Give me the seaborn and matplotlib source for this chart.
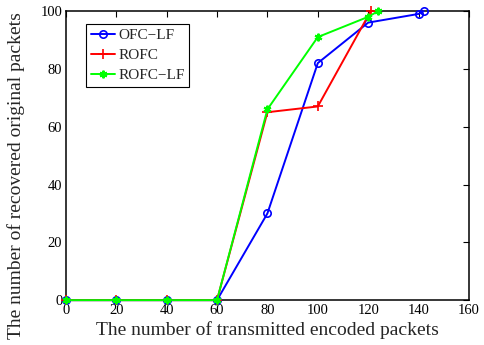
import matplotlib
matplotlib.use("Agg")
import matplotlib.pyplot as plt
import seaborn as sns
import pandas as pd

# Data
ofc_lf_x = [0, 20, 40, 60, 80, 100, 120, 140, 142]
ofc_lf_y = [0, 0, 0, 0, 30, 82, 96, 99, 100]
rofc_x = [0, 20, 40, 60, 80, 100, 121]
rofc_y = [0, 0, 0, 0, 65, 67, 100]
rofc_lf_x = [0, 20, 40, 60, 80, 100, 120, 124]
rofc_lf_y = [0, 0, 0, 0, 66, 91, 98, 100]
x_ticks = [0, 20, 40, 60, 80, 100, 120, 140, 160]
y_ticks = [0, 20, 40, 60, 80, 100]

sns.set_style("white")
plt.rcParams['font.family'] = ['Liberation Serif', 'DejaVu Serif']
plt.rcParams['mathtext.fontset'] = 'stix'

fig = plt.figure(figsize=(4.84, 3.45), dpi=100)
ax = fig.add_axes([0.136, 0.130, 0.833, 0.838])

series = [
    ("OFC\u2212LF", ofc_lf_x, ofc_lf_y, "#0000ff", "o", dict(markerfacecolor="none", markersize=5.3, markeredgewidth=1.2)),
    ("ROFC", rofc_x, rofc_y, "#ff0000", "+", dict(markersize=6.5, markeredgewidth=1.2)),
    ("ROFC\u2212LF", rofc_lf_x, rofc_lf_y, "#00ff00", (6, 2, 0), dict(markersize=5.5, markeredgewidth=1.5)),
]
for name, xs, ys, col, mk, kw in series:
    df = pd.DataFrame({"x": xs, "y": ys})
    sns.lineplot(data=df, x="x", y="y", ax=ax, color=col, marker=mk, sort=False,
                 estimator=None, linewidth=1.4, label=name, markeredgecolor=col,
                 clip_on=False, zorder=3, **kw)

ax.set_xlim(0, 160)
ax.set_ylim(0, 100)
ax.set_xticks(x_ticks)
ax.set_yticks(y_ticks)
ax.tick_params(direction="in", length=4, width=0.8, labelsize=10.5, colors="black",
               top=True, right=True, pad=2.5)
for s in ax.spines.values():
    s.set_visible(True)
    s.set_color("black")
    s.set_linewidth(1.1)
    s.set_zorder(2)
ax.set_xlabel("The number of transmitted encoded packets", fontsize=14, labelpad=3)
ax.set_ylabel("The number of recovered original packets", fontsize=14)
ax.yaxis.set_label_coords(-0.102, 0.43)
ax.grid(False)

leg = ax.legend(loc="upper left", bbox_to_anchor=(0.05, 0.955), fontsize=11,
                frameon=True, fancybox=False, framealpha=1, edgecolor="black",
                handlelength=1.6, handletextpad=0.2, borderpad=0.3, labelspacing=0.4,
                borderaxespad=0)
leg.get_frame().set_linewidth(0.8)

fig.savefig("out.png", dpi=100)
